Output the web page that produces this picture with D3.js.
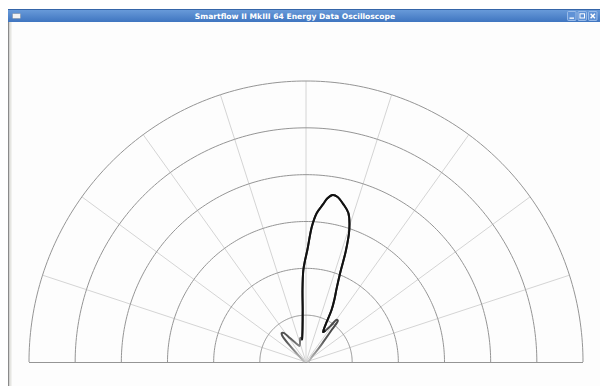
<!DOCTYPE html>
<html>
<head>
<meta charset="utf-8">
<script src="https://cdn.jsdelivr.net/npm/d3@7"></script>
<style>
  html, body { margin: 0; padding: 0; background: #ffffff; }
  svg { display: block; }
</style>
</head>
<body>
<svg id="chart" width="600" height="386"></svg>
<script>
// Window title
const windowTitle = "Smartflow II MkIII 64 Energy Data Oscilloscope";

// Polar grid: ring values and spoke angles (degrees, 0 = right, 180 = left)
const ringValues = [10, 20, 30, 40, 50, 60];
const spokeAngles = [18, 36, 54, 72, 90, 108, 126, 144, 162];

// Energy trace: angle (deg) and magnitude
const traceAngles = [0, 15, 30, 40, 44, 47, 49, 51, 52, 53.5, 55.5, 58, 60, 62, 63.5, 65.5, 67, 68.8, 70, 71.6, 73.9, 76.6, 79, 80.8, 82.5, 83.7, 85.8, 87.5, 89.3, 90.5, 91.7, 92.8, 93.7, 96, 98.5, 100.5, 103.5, 108, 112, 118, 124, 128, 130.5, 132.5, 135, 138, 145, 160, 180];
const traceValues = [0.3, 0.6, 1.0, 1.6, 2.4, 4.2, 5.9, 9.0, 11.2, 11.2, 9.3, 7.9, 7.4, 9.0, 12.4, 15.0, 16.9, 20.6, 25.2, 29.7, 33.1, 34.7, 35.9, 36.1, 35.2, 33.9, 31.9, 28.9, 23.9, 21.8, 19.6, 15.5, 11.1, 7.2, 5.5, 4.8, 5.3, 4.2, 3.7, 4.4, 6.1, 7.9, 8.1, 7.6, 5.0, 2.6, 1.0, 0.5, 0.3];

// Angular span of the main beam
const mainLobeRange = [60, 98.5];

const svg = d3.select("#chart");
const W = 600, H = 386;

// ---------- window frame ----------
const defs = svg.append("defs");
const tg = defs.append("linearGradient").attr("id", "titleGrad")
  .attr("x1", 0).attr("y1", 0).attr("x2", 0).attr("y2", 1);
tg.append("stop").attr("offset", 0).attr("stop-color", "#6b9ddb");
tg.append("stop").attr("offset", 1).attr("stop-color", "#3f75c0");

svg.append("rect").attr("x", 0).attr("y", 0).attr("width", W).attr("height", H).attr("fill", "#ffffff");
svg.append("rect").attr("x", 8).attr("y", 22).attr("width", W - 8).attr("height", H - 22).attr("fill", "#fdfdfd");
svg.append("rect").attr("x", 8).attr("y", 9).attr("width", W - 8).attr("height", 13).attr("fill", "url(#titleGrad)");
svg.append("line").attr("x1", 8).attr("x2", W).attr("y1", 9.5).attr("y2", 9.5).attr("stroke", "#3565a8");
svg.append("rect").attr("x", 8).attr("y", 22).attr("width", 1.5).attr("height", H - 22).attr("fill", "#8a8a8a");
svg.append("rect").attr("x", 9.5).attr("y", 22).attr("width", 2).attr("height", H - 22).attr("fill", "#e6e6e2");

// menu icon
svg.append("rect").attr("x", 12.5).attr("y", 13.5).attr("width", 8).attr("height", 5).attr("rx", 1)
  .attr("fill", "#f2f2f2").attr("stroke", "#8a9ab0").attr("stroke-width", 0.8);

// title text
svg.append("text").attr("x", 295).attr("y", 18.5).attr("text-anchor", "middle")
  .attr("font-family", "DejaVu Sans, sans-serif").attr("font-weight", "bold").attr("font-size", "7.6px")
  .attr("fill", "#ffffff").text(windowTitle);

// window buttons
const buttonX = [567, 577.5, 588];
const buttonGlyphs = ["min", "max", "close"];
buttonX.forEach((bx, i) => {
  const g = svg.append("g").attr("transform", `translate(${bx},11)`);
  g.append("rect").attr("x", 0.5).attr("y", 0.5).attr("width", 8.5).attr("height", 9).attr("rx", 1)
    .attr("fill", "#5f92d6").attr("stroke", "#a9c6ee").attr("stroke-width", 0.8);
  if (buttonGlyphs[i] === "min") {
    g.append("rect").attr("x", 2.5).attr("y", 6.5).attr("width", 4.5).attr("height", 1.3).attr("fill", "#fff");
  } else if (buttonGlyphs[i] === "max") {
    g.append("rect").attr("x", 2.5).attr("y", 2.8).attr("width", 4.5).attr("height", 4.2)
      .attr("fill", "none").attr("stroke", "#fff").attr("stroke-width", 1);
  } else {
    g.append("path").attr("d", "M2.6,2.8 L6.9,7.2 M6.9,2.8 L2.6,7.2")
      .attr("stroke", "#fff").attr("stroke-width", 1.4);
  }
});

// ---------- polar plot ----------
const maxValue = d3.max(ringValues);
const xScale = d3.scaleLinear().domain([-maxValue, maxValue]).range([29, 583]);
const yScale = d3.scaleLinear().domain([0, maxValue]).range([362, 81]);
const rad = d => d * Math.PI / 180;
const px = (a, v) => xScale(v * Math.cos(rad(a)));
const py = (a, v) => yScale(v * Math.sin(rad(a)));

const plot = svg.append("g");

// spokes
plot.selectAll("line.spoke").data(spokeAngles).join("line").attr("class", "spoke")
  .attr("x1", xScale(0)).attr("y1", yScale(0))
  .attr("x2", a => px(a, maxValue)).attr("y2", a => py(a, maxValue))
  .attr("stroke", "#d4d4d4").attr("stroke-width", 1);

// rings (half ellipses)
const arcPts = d3.range(0, 180.5, 1);
const ringLine = d3.line();
plot.selectAll("path.ring").data(ringValues).join("path").attr("class", "ring")
  .attr("d", v => ringLine(arcPts.map(a => [px(a, v), py(a, v)])))
  .attr("fill", "none").attr("stroke", "#959595").attr("stroke-width", 1);

// baseline
plot.append("line")
  .attr("x1", xScale(-maxValue)).attr("x2", xScale(maxValue))
  .attr("y1", yScale(0) + 0.5).attr("y2", yScale(0) + 0.5)
  .attr("stroke", "#959595").attr("stroke-width", 1);

// trace
const trace = traceAngles.map((a, i) => ({ a, v: traceValues[i] }));
const traceLine = d3.line().x(d => px(d.a, d.v)).y(d => py(d.a, d.v)).curve(d3.curveCatmullRom.alpha(0.5));

const rg = defs.append("radialGradient").attr("id", "traceGrad").attr("gradientUnits", "userSpaceOnUse")
  .attr("cx", xScale(0)).attr("cy", yScale(0)).attr("r", 40);
rg.append("stop").attr("offset", 0).attr("stop-color", "#c8c8c8");
rg.append("stop").attr("offset", 0.3).attr("stop-color", "#9a9a9a");
rg.append("stop").attr("offset", 0.7).attr("stop-color", "#5a5a5a");
rg.append("stop").attr("offset", 1).attr("stop-color", "#4a4a4a");

plot.append("path").datum(trace).attr("d", traceLine)
  .attr("fill", "none").attr("stroke", "url(#traceGrad)").attr("stroke-width", 2)
  .attr("stroke-linejoin", "round");

const mainIdx0 = traceAngles.indexOf(mainLobeRange[0]);
const mainIdx1 = traceAngles.indexOf(mainLobeRange[1]);
const mainLobe = trace.slice(Math.max(0, mainIdx0 - 1), mainIdx1 + 2);
plot.append("path").datum(mainLobe).attr("d", traceLine)
  .attr("fill", "none").attr("stroke", "#111").attr("stroke-width", 2)
  .attr("stroke-linejoin", "round");
</script>
</body>
</html>
